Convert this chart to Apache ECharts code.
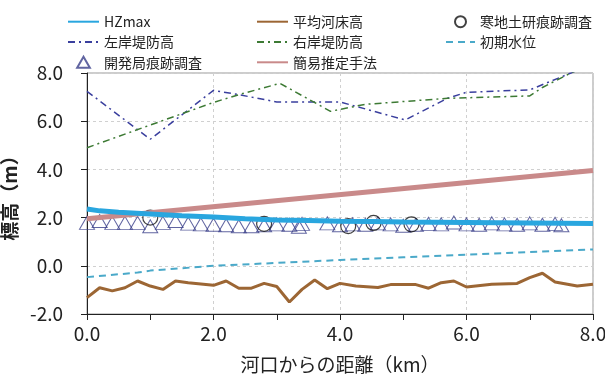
<!DOCTYPE html>
<html><head><meta charset="utf-8">
<script src="https://cdn.jsdelivr.net/npm/echarts@6/dist/echarts.min.js"></script>
<style>html,body{margin:0;padding:0;background:#fff}#c{width:605px;height:378px}</style>
</head><body><div id="c"></div>
<script>
// ---- data ----
const xTicks = [0, 2, 4, 6, 8];
const yTicks = [-2, 0, 2, 4, 6, 8];

const hzX = [0, 0.2, 0.5, 1.0, 1.5, 2.0, 2.5, 3.0, 3.5, 4.0, 4.5, 5.0, 5.5, 6.0, 7.0, 8.0];
const hzY = [2.36, 2.28, 2.22, 2.15, 2.08, 2.02, 1.95, 1.9, 1.88, 1.85, 1.84, 1.82, 1.81, 1.8, 1.78, 1.76];

const bedX = [0, 0.2, 0.4, 0.6, 0.8, 1.0, 1.2, 1.4, 1.6, 2.0, 2.2, 2.4, 2.6, 2.8, 3.0, 3.2, 3.4, 3.6, 3.8, 4.0, 4.25, 4.6, 4.8, 5.2, 5.4, 5.6, 5.8, 6.0, 6.4, 6.8, 7.0, 7.2, 7.4, 7.75, 8.0];
const bedY = [-1.32, -0.91, -1.04, -0.91, -0.63, -0.84, -0.98, -0.63, -0.70, -0.81, -0.63, -0.93, -0.93, -0.73, -0.86, -1.5, -0.98, -0.59, -0.95, -0.73, -0.84, -0.9, -0.78, -0.78, -0.93, -0.70, -0.63, -0.88, -0.77, -0.73, -0.49, -0.31, -0.67, -0.84, -0.77];

const leftX = [0, 1.0, 2.0, 2.4, 3.0, 4.0, 5.03, 5.7, 6.0, 7.0, 7.65, 8.0];
const leftY = [7.24, 5.25, 7.28, 7.1, 6.8, 6.8, 6.05, 6.95, 7.2, 7.3, 8.0, 8.4];

const rightX = [0, 2.0, 2.4, 3.05, 3.85, 4.4, 5.7, 7.0, 7.2, 7.65, 8.0];
const rightY = [4.9, 6.78, 7.1, 7.57, 6.41, 6.7, 6.95, 7.05, 7.4, 8.0, 8.4];

const wlX = [0, 0.8, 1.0, 2.0, 3.0, 4.0, 5.0, 6.0, 7.0, 8.0];
const wlY = [-0.47, -0.28, -0.2, 0.0, 0.12, 0.24, 0.35, 0.46, 0.57, 0.68];

const easyX = [0, 8];
const easyY = [1.95, 3.95];

const triX = [0, 0.2, 0.4, 0.6, 0.8, 1.0, 1.2, 1.4, 1.6, 1.8, 2.0, 2.2, 2.4, 2.6, 2.8, 3.0, 3.2, 3.35, 3.4,
              3.8, 4.0, 4.2, 4.4, 4.6, 4.8, 5.0, 5.2, 5.4, 5.6, 5.8, 6.0, 6.2, 6.4, 6.6, 6.8, 7.0, 7.2, 7.4, 7.5];
const triY = [1.78, 1.86, 1.78, 1.78, 1.78, 1.64, 1.78, 1.86, 1.75, 1.72, 1.7, 1.68, 1.64, 1.64, 1.68, 1.72, 1.7, 1.62, 1.74,
              1.76, 1.68, 1.72, 1.7, 1.76, 1.72, 1.66, 1.7, 1.74, 1.72, 1.8, 1.72, 1.7, 1.76, 1.72, 1.7, 1.76, 1.7, 1.74, 1.68];

const cirX = [1.0, 2.8, 4.13, 4.53, 5.13];
const cirY = [2.0, 1.74, 1.65, 1.78, 1.72];

const zip = (xs, ys) => xs.map((x, i) => [x, ys[i]]);

const FONT = '"Noto Sans CJK JP", "Noto Sans", sans-serif';
const chart = echarts.init(document.getElementById('c'), null, {renderer: 'canvas'});

const legendBase = {
  orient: 'vertical', itemWidth: 31, itemHeight: 11, itemGap: 4.3,
  textStyle: {fontFamily: FONT, fontSize: 14, color: '#222', lineHeight: 16},
  selectedMode: false
};
const lineItem = n => ({name: n, itemStyle: {opacity: 0}});
const TRI = 'path://M5,0L10,8.66L0,8.66Z';

chart.setOption({
  animation: false,
  backgroundColor: '#fff',
  textStyle: {fontFamily: FONT},
  grid: {left: 87, right: 12, top: 73, bottom: 64, show: true, borderColor: '#9a9a9a', borderWidth: 1,
         containLabel: false, outerBoundsMode: 'none'},
  legend: [
    Object.assign({}, legendBase, {left: 62, top: 8.7, data: [lineItem('HZmax'), lineItem('左岸堤防高'), {name: '開発局痕跡調査', icon: TRI}]}),
    Object.assign({}, legendBase, {left: 251, top: 8.7, data: [lineItem('平均河床高'), lineItem('右岸堤防高'), lineItem('簡易推定手法')]}),
    Object.assign({}, legendBase, {left: 440, top: 8.7, itemWidth: 29, data: [{name: '寒地土研痕跡調査', icon: 'circle'}, lineItem('初期水位')]})
  ],
  xAxis: {
    type: 'value', min: xTicks[0], max: xTicks[xTicks.length - 1], interval: 2,
    name: '河口からの距離（km）', nameLocation: 'middle', nameGap: 41,
    nameTextStyle: {fontFamily: FONT, fontSize: 19, color: '#222'},
    axisLine: {onZero: false, lineStyle: {color: '#222', width: 1}},
    axisTick: {show: true, length: 6, lineStyle: {color: '#222'}},
    minorTick: {show: true, splitNumber: 2, length: 6, lineStyle: {color: '#222'}},
    axisLabel: {formatter: v => v.toFixed(1), fontSize: 19, color: '#222', margin: 10, fontFamily: FONT},
    splitLine: {show: true, lineStyle: {color: '#d0d0d0', type: [3, 3]}}
  },
  yAxis: {
    type: 'value', min: yTicks[0], max: yTicks[yTicks.length - 1], interval: 2,
    name: '標高（m）', nameLocation: 'middle', nameGap: 59,
    nameTextStyle: {fontFamily: FONT, fontSize: 19, color: '#222', fontWeight: 'bold'},
    axisLine: {show: true, lineStyle: {color: '#222', width: 1}},
    axisTick: {show: true, length: 6, lineStyle: {color: '#222'}},
    axisLabel: {formatter: v => v.toFixed(1), fontSize: 19, color: '#222', margin: 24, fontFamily: FONT},
    splitLine: {show: true, lineStyle: {color: '#d0d0d0', type: [3, 3]}}
  },
  series: [
    {name: '左岸堤防高', type: 'line', symbol: 'none', data: zip(leftX, leftY),
     lineStyle: {color: '#3a3f9e', width: 1.5, type: [7, 4, 2, 4]}, itemStyle: {color: '#3a3f9e'}},
    {name: '右岸堤防高', type: 'line', symbol: 'none', data: zip(rightX, rightY),
     lineStyle: {color: '#3d7a34', width: 1.5, type: [7, 4, 2, 4]}, itemStyle: {color: '#3d7a34'}},
    {name: '初期水位', type: 'line', symbol: 'none', data: zip(wlX, wlY),
     lineStyle: {color: '#4aa9c9', width: 2, type: [7, 5]}, itemStyle: {color: '#4aa9c9'}},
    {name: '平均河床高', type: 'line', symbol: 'none', data: zip(bedX, bedY),
     lineStyle: {color: '#9c6634', width: 3}, itemStyle: {color: '#9c6634'}},
    {name: '簡易推定手法', type: 'line', symbol: 'none', data: zip(easyX, easyY),
     lineStyle: {color: '#c98a8a', width: 5}, itemStyle: {color: '#c98a8a'}},
    {name: 'HZmax', type: 'line', symbol: 'none', data: zip(hzX, hzY),
     lineStyle: {color: '#29a6df', width: 5}, itemStyle: {color: '#29a6df'}},
    {name: '開発局痕跡調査', type: 'scatter', symbol: 'triangle', symbolSize: [15, 13], data: zip(triX, triY),
     itemStyle: {color: 'rgba(255,255,255,0)', borderColor: '#3a3f8a', borderWidth: 1}},
    {name: '寒地土研痕跡調査', type: 'scatter', symbol: 'circle', symbolSize: 15, data: zip(cirX, cirY),
     itemStyle: {color: 'rgba(255,255,255,0)', borderColor: '#111', borderWidth: 1.2}}
  ]
});
</script></body></html>
